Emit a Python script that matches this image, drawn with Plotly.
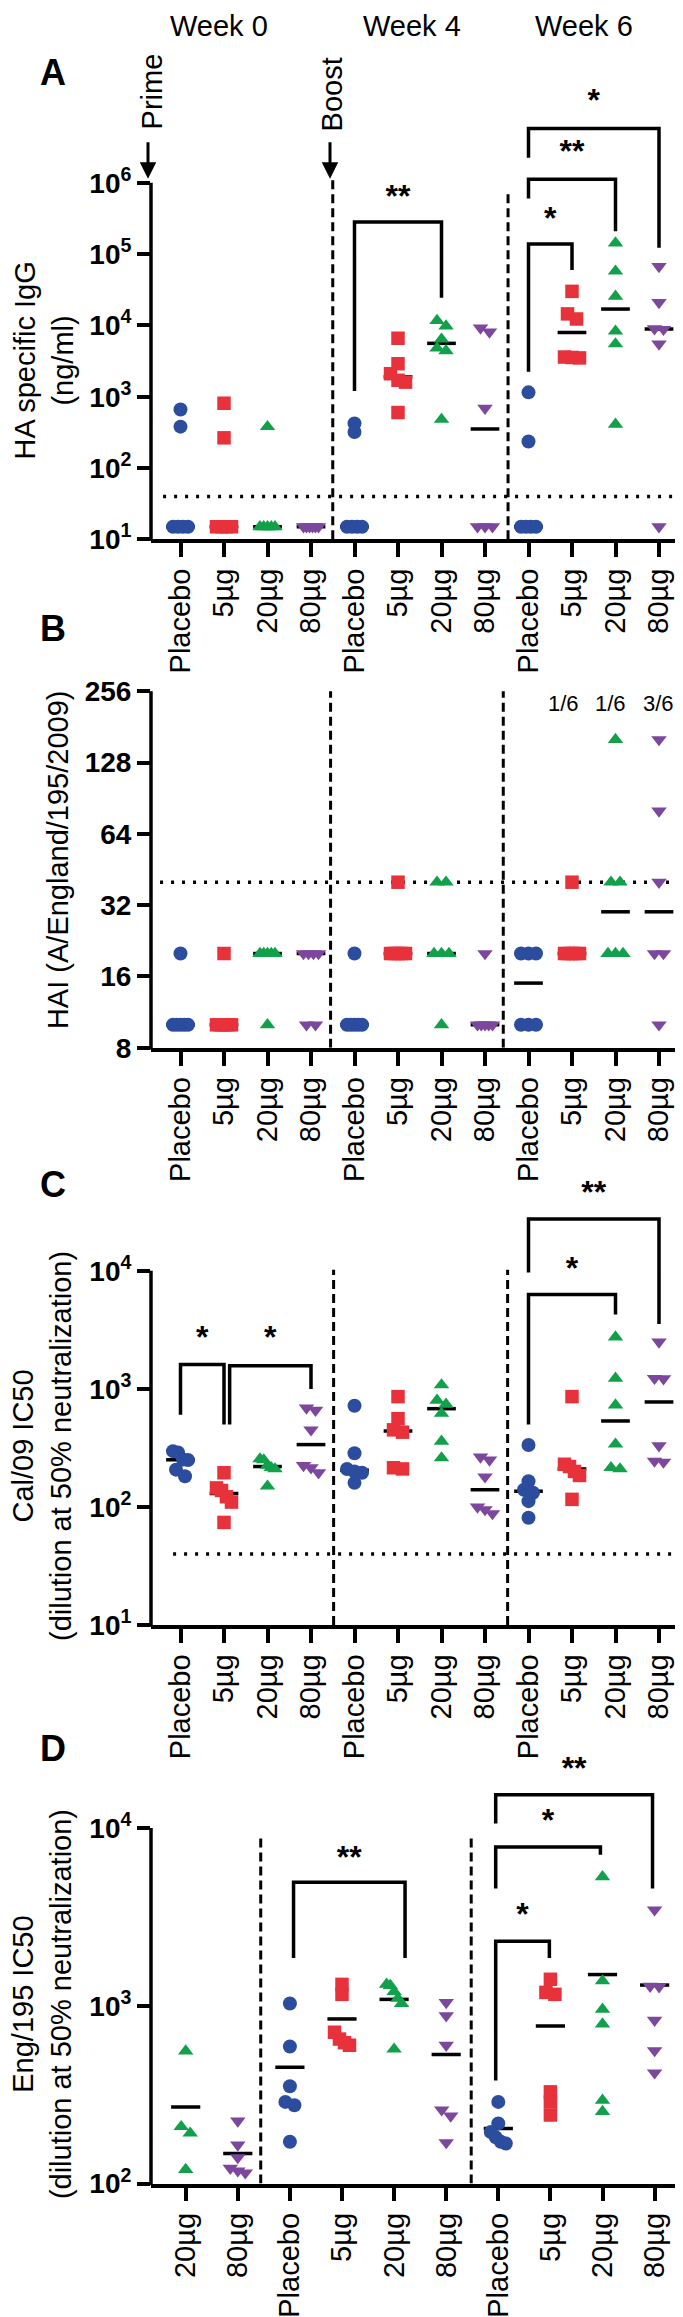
import numpy as np
import plotly.graph_objects as go

W, H = 683, 2317
FONT = "Liberation Sans, Arial, sans-serif"

GROUPS = ["Placebo", "5µg", "20µg", "80µg"]
COLORS = ["#2c4c9e", "#e8323b", "#12a04b", "#7c479c"]
SYMBOLS = ["circle", "square", "triangle-up", "triangle-down"]
SIZES = [14, 13.5, 13.5, 13.5]

# ---- A: HA specific IgG (ng/ml), line = median
A_W0 = [[660, 380, 15, 15, 15, 15], [810, 265, 15, 15, 15, 15],
        [380, 15, 15, 15, 15, 15], [15, 15, 15, 15, 15, 15]]
A_W4 = [[420, 320, 15, 15, 15, 15], [6600, 2900, 2100, 1700, 1600, 600],
        [11700, 9800, 6400, 4800, 4400, 480], [9200, 8100, 690, 15, 15, 15]]
A_W6 = [[1150, 235, 15, 15, 15, 15], [30000, 14500, 12300, 3600, 3550, 3500],
        [143000, 57600, 25600, 8300, 5500, 410], [67000, 21000, 9000, 8800, 5500, 15]]
A_GROUPS = [0, 1, 2, 3] * 3

# ---- B: HAI titre, line = median
B_W0 = [[20, 10, 10, 10, 10, 10], [20, 10, 10, 10, 10, 10],
        [20, 20, 20, 20, 20, 10], [20, 20, 20, 20, 10, 10]]
B_W4 = [[20, 10, 10, 10, 10, 10], [40, 20, 20, 20, 20, 20],
        [40, 40, 20, 20, 20, 10], [20, 10, 10, 10, 10, 10]]
B_W6 = [[20, 20, 20, 10, 10, 10], [40, 20, 20, 20, 20, 20],
        [160, 40, 40, 20, 20, 20], [160, 80, 40, 20, 20, 10]]
B_GROUPS = [0, 1, 2, 3] * 3
B_FRACTIONS = ["1/6", "1/6", "3/6"]

# ---- C: Cal/09 IC50, line = median
C_W0 = [[297, 290, 252, 250, 207, 182], [195, 145, 138, 122, 110, 74],
        [255, 250, 225, 215, 210, 150], [690, 660, 450, 225, 215, 195]]
C_W4 = [[720, 285, 210, 200, 195, 160], [860, 560, 450, 430, 215, 210],
        [1080, 800, 740, 620, 360, 260], [265, 250, 180, 100, 95, 88]]
C_W6 = [[335, 165, 140, 132, 112, 81], [860, 230, 220, 200, 185, 116],
        [2750, 1230, 730, 340, 215, 210], [2500, 1230, 1220, 330, 245, 240]]
C_GROUPS = [0, 1, 2, 3] * 3

# ---- D: Eng/195 IC50, line = mean
D_W0 = [[556, 209, 192, 120], [225, 165, 140, 122, 118, 115]]
D_W4 = [[1030, 590, 353, 288, 276, 172], [1320, 1160, 710, 650, 620, 600],
        [1320, 1300, 1200, 1100, 1030, 570], [1045, 880, 600, 260, 240, 170]]
D_W6 = [[288, 218, 195, 182, 172, 168], [1410, 1190, 1160, 328, 288, 243],
        [5320, 1380, 955, 790, 294, 254], [3470, 1290, 1280, 830, 560, 420]]
D_GROUPS = [2, 3] + [0, 1, 2, 3] * 2

# significance brackets: (left cat, right cat, left leg end, top, right leg end, label, label y)
A_BRACKETS = [(4, 6, 1200, 282000, 24500, "**", 600000),
              (8, 9, 2240, 138000, 60000, "*", 295000),
              (8, 10, 600000, 1.12e6, 209000, "**", 2.5e6),
              (8, 11, 2.24e6, 5.75e6, 123000, "*", 1.32e7)]
C_BRACKETS = [(0, 1.0, 603, 1607, 500, "*", 2570),
              (1.13, 3, 500, 1567, 1000, "*", 2570),
              (8, 10, 500, 6300, 4270, "*", 10000),
              (8, 11, 9680, 27500, 3550, "**", 44200)]
D_BRACKETS = [(2.07, 4.21, 1860, 4950, 1860, "**", 6600),
              (5.95, 6.98, 380, 2310, 1860, "*", 3160),
              (5.95, 7.96, 4570, 7830, 7080, "*", 10700),
              (5.95, 8.96, 10600, 15400, 4570, "**", 20900)]

LOG_TICKS = {1: "10<sup>1</sup>", 2: "10<sup>2</sup>", 3: "10<sup>3</sup>",
             4: "10<sup>4</sup>", 5: "10<sup>5</sup>", 6: "10<sup>6</sup>"}


def py(px):
    return 1 - px / H


def swarm(vals, ppd, ppu, gap=8.0, spread=15.0, step=9.0):
    # spread points that sit (almost) on top of each other, GraphPad style
    vals = np.asarray(vals, dtype=float)
    ypx = np.log10(vals) * ppd
    order = np.argsort(-ypx, kind="stable")
    offs = np.zeros(len(vals))
    clusters, cur = [], [order[0]]
    for a, b in zip(order[:-1], order[1:]):
        if ypx[a] - ypx[b] < gap:
            cur.append(b)
        else:
            clusters.append(cur)
            cur = [b]
    clusters.append(cur)
    for c in clusters:
        if len(c) > 1:
            w = min(spread, step * (len(c) - 1))
            offs[c] = np.linspace(-w / 2, w / 2, len(c))
    return offs / ppu


panels = [
    dict(data=A_W0 + A_W4 + A_W6, groups=A_GROUPS, stat=np.median,
         x0=172.5, ppu=43.5, top=70, bottom=535, ppd=71.8, lo=1.0,
         yticks=[10 ** k for k in range(1, 7)], ytext=[LOG_TICKS[k] for k in range(1, 7)],
         dashed=[(3.5, 10 ** 6.06), (7.53, 10 ** 5.9)], lod=40, lod_start=-0.4,
         brackets=A_BRACKETS, half=0.33),
    dict(data=B_W0 + B_W4 + B_W6, groups=B_GROUPS, stat=np.median,
         x0=172.5, ppu=43.5, top=670, bottom=1047, ppd=71.8 / np.log10(2), lo=np.log10(8),
         yticks=[8, 16, 32, 64, 128, 256], ytext=["8", "16", "32", "64", "128", "256"],
         dashed=[(3.45, 256), (7.42, 256)], lod=40, lod_start=-0.47,
         brackets=[], half=0.33),
    dict(data=C_W0 + C_W4 + C_W6, groups=C_GROUPS, stat=np.median,
         x0=172.5, ppu=43.5, top=1180, bottom=1628.3, ppd=118.9, lo=1.0,
         yticks=[10 ** k for k in range(1, 5)], ytext=[LOG_TICKS[k] for k in range(1, 5)],
         dashed=[(3.52, 10 ** 4.01), (7.52, 10 ** 4.01)], lod=40, lod_start=-0.17,
         brackets=C_BRACKETS, half=0.33),
    dict(data=D_W0 + D_W4 + D_W6, groups=D_GROUPS, stat=np.mean,
         x0=177.7, ppu=52.1, top=1755, bottom=2190.7, ppd=179.0, lo=2.0,
         yticks=[10 ** k for k in range(2, 5)], ytext=[LOG_TICKS[k] for k in range(2, 5)],
         dashed=[(1.44, 10 ** 3.97), (5.48, 10 ** 3.97)], lod=None, lod_start=0,
         brackets=D_BRACKETS, half=0.28),
]

fig = go.Figure()
layout = {}
shapes = []

for i, p in enumerate(panels):
    n = "" if i == 0 else str(i + 1)
    xa, ya = "x" + n, "y" + n
    xr = [(143 - p["x0"]) / p["ppu"], (683 - p["x0"]) / p["ppu"]]
    yr = [p["lo"], p["lo"] + (p["bottom"] - p["top"]) / p["ppd"]]
    labels = [GROUPS[g] for g in p["groups"]]

    layout["xaxis" + n] = dict(
        domain=[143 / W, 1], range=xr, anchor=ya,
        tickmode="array", tickvals=list(range(len(labels))), ticktext=labels,
        tickangle=-90, ticks="outside", ticklen=14, tickwidth=3.5, tickcolor="black",
        showline=True, linewidth=3.5, linecolor="black",
        showgrid=False, zeroline=False,
        tickfont=dict(family=FONT, size=29, color="black"))
    layout["yaxis" + n] = dict(
        domain=[py(p["bottom"]), py(p["top"])], type="log", range=yr, anchor=xa,
        tickmode="array", tickvals=p["yticks"], ticktext=p["ytext"],
        ticks="outside", ticklen=13, tickwidth=3.5, tickcolor="black",
        showline=False, showgrid=False, zeroline=False,
        tickfont=dict(family=FONT, size=28, color="black", weight="bold"))

    # y axis line only up to the top tick
    top_px = p["bottom"] - (np.log10(p["yticks"][-1]) - p["lo"]) * p["ppd"]
    shapes.append(dict(type="line", xref="paper", yref="paper",
                       x0=143 / W, x1=143 / W, y0=py(p["bottom"] + 1.75), y1=py(top_px),
                       line=dict(color="black", width=3.5)))

    # dashed week separators
    for xd, ytop in p["dashed"]:
        fig.add_trace(go.Scatter(x=[xd, xd], y=[10 ** p["lo"], ytop], mode="lines",
                                 line=dict(color="black", width=3, dash="9px,5px"),
                                 xaxis=xa, yaxis=ya, hoverinfo="skip"))
    # limit of detection
    if p["lod"]:
        fig.add_trace(go.Scatter(x=[p["lod_start"], xr[1]], y=[p["lod"], p["lod"]],
                                 mode="lines", line=dict(color="black", width=3.5, dash="3px,8px"),
                                 xaxis=xa, yaxis=ya, hoverinfo="skip"))

    # median / mean lines
    lx, ly = [], []
    for k, vals in enumerate(p["data"]):
        m = float(p["stat"](vals))
        lx += [k - p["half"], k + p["half"], None]
        ly += [m, m, None]
    fig.add_trace(go.Scatter(x=lx, y=ly, mode="lines", line=dict(color="black", width=3.5),
                             xaxis=xa, yaxis=ya, hoverinfo="skip"))

    # points
    for g in range(4):
        xs, ys = [], []
        for k, vals in enumerate(p["data"]):
            if p["groups"][k] != g:
                continue
            offs = swarm(vals, p["ppd"], p["ppu"])
            xs += list(k + offs)
            ys += list(vals)
        fig.add_trace(go.Scatter(x=xs, y=ys, mode="markers", name=GROUPS[g],
                                 marker=dict(symbol=SYMBOLS[g], size=SIZES[g], color=COLORS[g],
                                             line=dict(width=0)),
                                 xaxis=xa, yaxis=ya, cliponaxis=False))

    # significance brackets
    bx, by, tx, ty, tt = [], [], [], [], []
    for x1, x2, yl, yt, yrr, lab, lab_y in p["brackets"]:
        bx += [x1, x1, x2, x2, None]
        by += [yl, yt, yt, yrr, None]
        tx.append((x1 + x2) / 2)
        ty.append(lab_y)
        tt.append(lab)
    if bx:
        fig.add_trace(go.Scatter(x=bx, y=by, mode="lines", line=dict(color="black", width=3.5),
                                 xaxis=xa, yaxis=ya, hoverinfo="skip"))
        fig.add_trace(go.Scatter(x=tx, y=ty, mode="text", text=tt, textposition="middle center",
                                 textfont=dict(family=FONT, size=32, color="black", weight="bold"),
                                 xaxis=xa, yaxis=ya, cliponaxis=False, hoverinfo="skip"))

annotations = []


def label(text, x, y, size=29, bold=False, angle=0):
    annotations.append(dict(text=text, x=x / W, y=py(y), xref="paper", yref="paper",
                            showarrow=False, textangle=angle, xanchor="center", yanchor="middle",
                            font=dict(family=FONT, size=size, color="black",
                                      weight="bold" if bold else "normal")))


for txt, x in zip(["Week 0", "Week 4", "Week 6"], [211, 404, 576]):
    label(txt, x, 18)
for txt, y in zip(["A", "B", "C", "D"], [65, 625, 1185, 1753]):
    label(txt, 45, y, size=36, bold=True)

label("HA specific IgG<br>(ng/ml)", 36, 355, angle=-90)
label("HAI (A/England/195/2009)", 50, 858, angle=-90)
label("Cal/09 IC50<br>(dilution at 50% neutralization)", 34, 1448, angle=-90)
label("Eng/195 IC50<br>(dilution at 50% neutralization)", 34, 2010, angle=-90)

label("Prime", 144, 84, angle=-90)
label("Boost", 324, 87, angle=-90)
for x in [140, 322]:
    annotations.append(dict(text="", x=x / W, y=py(172), xref="paper", yref="paper",
                            showarrow=True, ax=0, ay=-38, arrowhead=2, arrowsize=1.1,
                            arrowwidth=3, arrowcolor="black", standoff=0))

for txt, x in zip(B_FRACTIONS, [555, 602, 650]):
    label(txt, x, 700, size=22)

layout.update(
    width=W, height=H, autosize=False,
    margin=dict(l=0, r=0, t=0, b=0),
    paper_bgcolor="white", plot_bgcolor="white",
    showlegend=False,
    shapes=shapes, annotations=annotations,
    font=dict(family=FONT, color="black"),
)
fig.update_layout(**layout)

fig.write_html("out.html")
